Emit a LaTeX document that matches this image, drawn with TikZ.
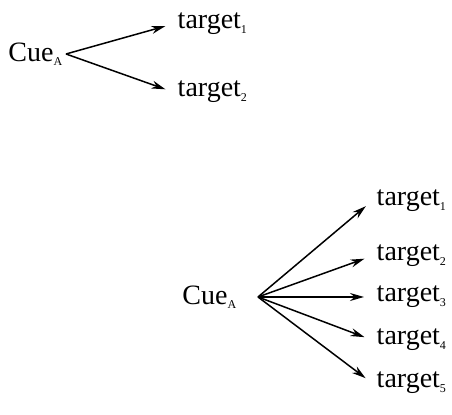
\documentclass[tikz,border=0pt]{standalone}
\usepackage{fontspec}
\setmainfont{Liberation Serif}
\usetikzlibrary{arrows.meta}
\tikzset{>={Stealth[length=7pt,width=4pt]},font=\fontsize{14}{16}\selectfont}
\newcommand{\lowix}[1]{\textsubscript{\fontsize{6}{7}\selectfont #1}}

\begin{document}
\begin{tikzpicture}[x=0.5pt,y=-0.5pt,line width=0.75pt]
\useasboundingbox (0,0) rectangle (452,415);
% one cue, two targets
\node (cueA) [anchor=east,inner sep=1pt] at (66,54) {Cue\lowix{A}};
\node (ta1) [anchor=west,inner sep=2pt] at (173,24) {target\lowix{1}};
\node (ta2) [anchor=west,inner sep=2pt] at (173,92) {target\lowix{2}};
\path[->,shorten >=4pt] (cueA.east) edge (ta1.west);
\path[->,shorten >=4pt] (cueA.east) edge (ta2.west);
% one cue, five targets
\node (cueB) [anchor=east,inner sep=1pt] at (240,297) {Cue\lowix{A}};
\coordinate (fan) at ([xshift=9pt]cueB.east);
\node (tb1) [anchor=west,inner sep=2pt] at (372,201) {target\lowix{1}};
\node (tb2) [anchor=west,inner sep=2pt] at (372,256) {target\lowix{2}};
\node (tb3) [anchor=west,inner sep=2pt] at (372,297) {target\lowix{3}};
\node (tb4) [anchor=west,inner sep=2pt] at (372,340) {target\lowix{4}};
\node (tb5) [anchor=west,inner sep=2pt] at (372,383) {target\lowix{5}};
\path[->,shorten >=4pt] (fan) edge (tb1.west);
\path[->,shorten >=4pt] (fan) edge (tb2.west);
\path[->,shorten >=4pt] (fan) edge (tb3.west);
\path[->,shorten >=4pt] (fan) edge (tb4.west);
\path[->,shorten >=4pt] (fan) edge (tb5.west);
\end{tikzpicture}
\end{document}
